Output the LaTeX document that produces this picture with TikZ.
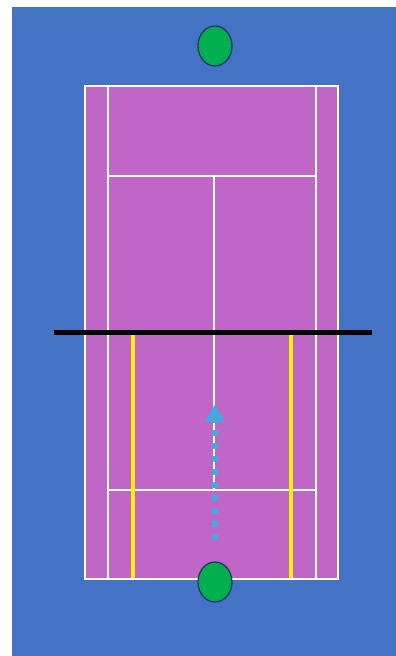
\documentclass[tikz,border=0pt]{standalone}
\usetikzlibrary{shapes.geometric,arrows.meta}
\definecolor{bgblue}{HTML}{4472C4}
\definecolor{court}{HTML}{C066C6}
\definecolor{ballgreen}{HTML}{00B050}
\definecolor{outline}{HTML}{1F3864}
\definecolor{arrowblue}{HTML}{45A9DB}
\begin{document}
\begin{tikzpicture}[x=1pt,y=-1pt,
  courtline/.style={draw=white,line width=2pt},
  player/.style={ellipse,draw=outline,fill=ballgreen,line width=1.3pt,minimum width=34pt,minimum height=40pt,inner sep=0pt},
  netline/.style={line width=5pt,black},
  marker/.style={line width=4pt,yellow},
  move/.style={arrowblue,line width=6.5pt,dash pattern=on 6pt off 7pt,-{Triangle[length=18pt,width=19pt]}}]
\useasboundingbox (0,0) rectangle (396,656);
\fill[white] (0,0) rectangle (396,656);
\fill[bgblue] (12,7) rectangle (396,656);
% court
\fill[court] (85,86) rectangle (338,579);
\draw[courtline] (85,86) rectangle (338,579);
\draw[courtline] (108,86) -- (108,579);
\draw[courtline] (316,86) -- (316,579);
\draw[courtline] (108,176) -- (316,176);
\draw[courtline] (108,490) -- (316,490);
\draw[courtline] (214,176) -- (214,490);
% yellow markers
\coordinate (y1t) at (133,334);
\coordinate (y1b) at (133,578);
\coordinate (y2t) at (291,334);
\coordinate (y2b) at (291,578);
\draw[marker] (y1t) -- (y1b);
\draw[marker] (y2t) -- (y2b);
% net
\coordinate (netL) at (54,332);
\coordinate (netR) at (372,332);
\draw[netline] (netL) -- (netR);
% arrow
\coordinate (aS) at (215,540);
\coordinate (aE) at (215,404);
\draw[move] (aS) -- (aE);
% players
\node[player] (ptop) at (215,46) {};
\node[player] (pbot) at (215,582) {};
\end{tikzpicture}
\end{document}
